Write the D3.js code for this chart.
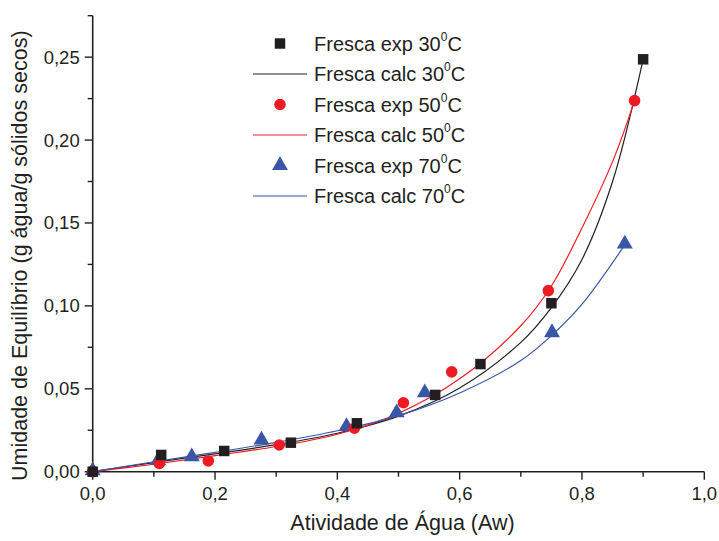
<!DOCTYPE html>
<html>
<head>
<meta charset="utf-8">
<script src="https://cdn.jsdelivr.net/npm/d3@7"></script>
<style>
  html, body { margin: 0; padding: 0; background: #fff; }
  svg text { font-family: "Liberation Sans", Arial, Helvetica, sans-serif; fill: #231f20; }
</style>
</head>
<body>
<svg id="chart" width="719" height="541"></svg>
<script>
// Experimental sorption points (Aw, equilibrium moisture)
const exp30Aw = [0.000, 0.112, 0.215, 0.324, 0.432, 0.560, 0.634, 0.750, 0.900];
const exp30X  = [0.000, 0.0101, 0.0125, 0.0175, 0.0292, 0.0463, 0.0649, 0.1016, 0.2487];
const exp50Aw = [0.000, 0.109, 0.189, 0.305, 0.428, 0.508, 0.587, 0.745, 0.886];
const exp50X  = [0.000, 0.0050, 0.0065, 0.0161, 0.0262, 0.0416, 0.0602, 0.1092, 0.2238];
const exp70Aw = [0.000, 0.107, 0.162, 0.276, 0.415, 0.497, 0.543, 0.751, 0.870];
const exp70X  = [0.000, 0.0062, 0.0085, 0.0185, 0.0267, 0.0350, 0.0470, 0.0833, 0.1368];

// Calculated isotherm curves (sampled)
const calc30Aw = [0.00, 0.10, 0.20, 0.30, 0.40, 0.50, 0.60, 0.70, 0.75, 0.80, 0.85, 0.90];
const calc30X  = [0.000, 0.0055, 0.0108, 0.0163, 0.0232, 0.0335, 0.0505, 0.0780, 0.0990, 0.1280, 0.1750, 0.2487];
const calc50Aw = [0.00, 0.10, 0.20, 0.30, 0.40, 0.50, 0.60, 0.70, 0.75, 0.80, 0.85, 0.886];
const calc50X  = [0.000, 0.0045, 0.0097, 0.0152, 0.0226, 0.0352, 0.0560, 0.0880, 0.1120, 0.1470, 0.1870, 0.2238];
const calc70Aw = [0.00, 0.10, 0.20, 0.30, 0.40, 0.50, 0.60, 0.70, 0.75, 0.80, 0.870];
const calc70X  = [0.000, 0.0060, 0.0117, 0.0177, 0.0247, 0.0338, 0.0475, 0.0670, 0.0820, 0.1010, 0.1368];

const xTicks = [0, 0.2, 0.4, 0.6, 0.8, 1.0];
const yTicks = [0, 0.05, 0.10, 0.15, 0.20, 0.25];
const xMinor = [0.1, 0.3, 0.5, 0.7, 0.9];
const yMinor = [0.025, 0.075, 0.125, 0.175, 0.225, 0.275];

const legendLabels = ["Fresca exp 30", "Fresca calc 30", "Fresca exp 50", "Fresca calc 50", "Fresca exp 70", "Fresca calc 70"];

const colors = { c30: "#231f20", c50: "#ed1c24", c70: "#3a56a6" };

const svg = d3.select("#chart");
const margin = { left: 92.7, right: 14.7, top: 15.7, bottom: 69.3 };
const W = 719, H = 541;

const x = d3.scaleLinear().domain([0, 1.0]).range([margin.left, W - margin.right]);
const y = d3.scaleLinear().domain([0, 0.275]).range([H - margin.bottom, margin.top]);

const fmt = d => d3.format(".2f")(d).replace(".", ",");
const fmtX = d => d3.format(".1f")(d).replace(".", ",");

// Axes
const axisColor = "#231f20";
const gx = svg.append("g").attr("transform", `translate(0,${y(0)})`);
gx.append("line").attr("x1", x(0)).attr("x2", x(1)).attr("stroke", axisColor).attr("stroke-width", 1.6);
gx.selectAll(".maj").data(xTicks).join("line")
  .attr("x1", d => x(d)).attr("x2", d => x(d)).attr("y1", 0).attr("y2", 8)
  .attr("stroke", axisColor).attr("stroke-width", 1.4);
gx.selectAll(".min").data(xMinor).join("line")
  .attr("x1", d => x(d)).attr("x2", d => x(d)).attr("y1", 0).attr("y2", 5)
  .attr("stroke", axisColor).attr("stroke-width", 1.4);
gx.selectAll("text").data(xTicks).join("text")
  .attr("x", d => x(d)).attr("y", 28).attr("text-anchor", "middle")
  .attr("font-size", 18.5).text(fmtX);

const gy = svg.append("g").attr("transform", `translate(${x(0)},0)`);
gy.append("line").attr("y1", y(0)).attr("y2", y(0.275)).attr("stroke", axisColor).attr("stroke-width", 1.6);
gy.selectAll(".maj").data(yTicks).join("line")
  .attr("y1", d => y(d)).attr("y2", d => y(d)).attr("x1", 0).attr("x2", -8)
  .attr("stroke", axisColor).attr("stroke-width", 1.4);
gy.selectAll(".min").data(yMinor).join("line")
  .attr("y1", d => y(d)).attr("y2", d => y(d)).attr("x1", 0).attr("x2", -5)
  .attr("stroke", axisColor).attr("stroke-width", 1.4);
gy.selectAll("text").data(yTicks).join("text")
  .attr("x", -13).attr("y", d => y(d)).attr("dy", "0.35em").attr("text-anchor", "end")
  .attr("font-size", 18.5).text(fmt);

// Axis titles
svg.append("text").attr("x", (x(0) + x(1)) / 2 + 4).attr("y", 530).attr("text-anchor", "middle")
  .attr("font-size", 21.5).text("Atividade de Água (Aw)");
svg.append("text").attr("transform", `translate(27,${(y(0) + y(0.275)) / 2 + 12}) rotate(-90)`)
  .attr("text-anchor", "middle").attr("font-size", 21.5)
  .text("Umidade de Equilíbrio (g água/g sólidos secos)");

// Curves
const line = d3.line().x(d => x(d[0])).y(d => y(d[1])).curve(d3.curveCatmullRom.alpha(0.5));
const curves = [
  { aw: calc30Aw, v: calc30X, c: colors.c30 },
  { aw: calc50Aw, v: calc50X, c: colors.c50 },
  { aw: calc70Aw, v: calc70X, c: colors.c70 }
];
curves.forEach(s => {
  svg.append("path").attr("d", line(d3.zip(s.aw, s.v)))
    .attr("fill", "none").attr("stroke", s.c).attr("stroke-width", 1.2);
});

// Markers
const sq = d3.symbol().type(d3.symbolSquare).size(110);
const ci = d3.symbol().type(d3.symbolCircle).size(105);
const tr = d3.symbol().type(d3.symbolTriangle).size(110);

svg.append("g").selectAll("path").data(d3.zip(exp70Aw, exp70X)).join("path")
  .attr("d", tr).attr("transform", d => `translate(${x(d[0])},${y(d[1]) - 1})`).attr("fill", colors.c70);
svg.append("g").selectAll("path").data(d3.zip(exp50Aw, exp50X)).join("path")
  .attr("d", ci).attr("transform", d => `translate(${x(d[0])},${y(d[1])})`).attr("fill", colors.c50);
svg.append("g").selectAll("path").data(d3.zip(exp30Aw, exp30X)).join("path")
  .attr("d", sq).attr("transform", d => `translate(${x(d[0])},${y(d[1])})`).attr("fill", colors.c30);

// Legend
const leg = svg.append("g");
const rowY = i => 43.5 + i * 30.5;
const legendItems = [
  { type: "sym", sym: sq, c: colors.c30 },
  { type: "line", c: colors.c30 },
  { type: "sym", sym: ci, c: colors.c50 },
  { type: "line", c: colors.c50 },
  { type: "sym", sym: tr, c: colors.c70 },
  { type: "line", c: colors.c70 }
];
legendItems.forEach((it, i) => {
  const yy = rowY(i);
  if (it.type === "sym") {
    leg.append("path").attr("d", it.sym).attr("transform", `translate(280,${yy})`).attr("fill", it.c);
  } else {
    leg.append("line").attr("x1", 253).attr("x2", 307).attr("y1", yy).attr("y2", yy)
      .attr("stroke", it.c).attr("stroke-width", 1.2);
  }
  const t = leg.append("text").attr("x", 314).attr("y", yy + 7).attr("font-size", 20);
  t.append("tspan").text(legendLabels[i]);
  t.append("tspan").attr("font-size", 12).attr("dy", -10).text("0");
  t.append("tspan").attr("dy", 10).text("C");
});
</script>
</body>
</html>
